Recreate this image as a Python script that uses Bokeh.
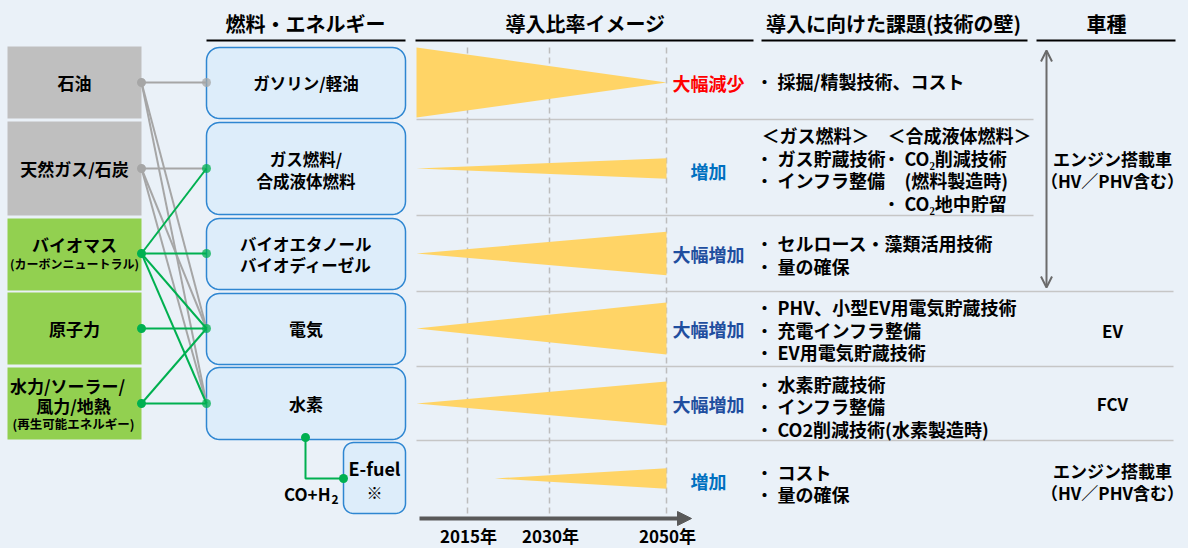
import numpy as np
from bokeh.plotting import figure
from bokeh.models import Range1d, Arrow, NormalHead, OpenHead
from bokeh.core.properties import value
from bokeh.embed import file_html
from bokeh.resources import INLINE

# ---------------- data ----------------
sources = ["石油", "天然ガス/石炭", "バイオマス", "原子力", "水力/ソーラー/風力/地熱"]
source_renewable = [False, False, True, True, True]
fuels = ["ガソリン/軽油", "ガス燃料/合成液体燃料", "バイオエタノール/バイオディーゼル", "電気", "水素"]
link_src = [0, 0, 0, 1, 1, 1, 2, 2, 2, 2, 3, 4, 4]
link_dst = [0, 3, 4, 1, 3, 4, 1, 2, 3, 4, 3, 3, 4]

years = [2015, 2030, 2050]
year_labels = ["2015年", "2030年", "2050年"]
wedge_names = ["ガソリン/軽油", "ガス燃料/合成液体燃料", "バイオ燃料", "電気", "水素", "E-fuel"]
wedge_start_year = [2006, 2006, 2006, 2006, 2006, 2020]
wedge_start_share = [1.0, 0.0, 0.0, 0.0, 0.0, 0.0]
wedge_2050_share = [0.0, 0.29, 0.62, 0.74, 0.63, 0.29]
trend_labels = ["大幅減少", "増加", "大幅増加", "大幅増加", "大幅増加", "増加"]
trend_kind = ["down", "up", "strong", "strong", "strong", "up"]

challenges = [
    ["採掘/精製技術、コスト"],
    None,
    ["セルロース・藻類活用技術", "量の確保"],
    ["PHV、小型EV用電気貯蔵技術", "充電インフラ整備", "EV用電気貯蔵技術"],
    ["水素貯蔵技術", "インフラ整備", "CO2削減技術(水素製造時)"],
    ["コスト", "量の確保"],
]
gas_head, gas_items = "＜ガス燃料＞", ["ガス貯蔵技術", "インフラ整備"]
syn_head, syn_items = "＜合成液体燃料＞", ["CO₂削減技術", "(燃料製造時)", "CO₂地中貯留"]
syn_bullet = [True, False, True]
vehicles = [["エンジン搭載車", "（HV／PHV含む）"], ["EV"], ["FCV"], ["エンジン搭載車", "（HV／PHV含む）"]]

headers = ["燃料・エネルギー", "導入比率イメージ", "導入に向けた課題(技術の壁)", "車種"]

# ---------------- layout / style ----------------
BG = "#EAF1F8"
FONT = "Noto Sans CJK JP"
GRAY_BOX = "#BFBFBF"
GREEN_BOX = "#92D050"
GRAY_LINE = "#A6A6A6"
GREEN_LINE = "#00B050"
BOX_FILL = "#DDEDFA"
BOX_EDGE = "#2E86D1"
WEDGE = "#FFD466"
AXIS_C = "#595959"
trend_color = {"down": "#FF0000", "up": "#0070C0", "strong": "#1F4E9F"}

row_top = [46, 121, 218, 292, 367]
row_bot = [118, 215, 290, 364, 439]
row_y = [82, 168, 253, 328, 403, 478]
src_x0, src_x1 = 7, 141
fuel_x0, fuel_x1 = 206, 405
year_anchor = [2006, 2015, 2030, 2050]
anchor_x = [416, 467, 549, 666]


def x_of_year(y):
    return float(np.interp(y, year_anchor, anchor_x))


p = figure(width=1188, height=548, x_range=Range1d(0, 1188), y_range=Range1d(548, 0),
           output_backend="svg", toolbar_location=None, min_border=0)
p.axis.visible = False
p.grid.visible = False
p.outline_line_color = None
p.background_fill_color = BG
p.border_fill_color = BG


def txt(x, y, s, size=17, color="#000000", align="center", style="bold"):
    p.text(x=[x], y=[y], text=[s], text_font=value(FONT), text_font_size=f"{size}px",
           text_font_style=style, text_color=color, text_align=align, text_baseline="middle")


def rrect(x0, y0, x1, y1, r):
    xs, ys = [], []
    cs = [(x1 - r, y0 + r, -90), (x1 - r, y1 - r, 0), (x0 + r, y1 - r, 90), (x0 + r, y0 + r, 180)]
    for cx, cy, a0 in cs:
        a = np.radians(np.linspace(a0, a0 + 90, 10))
        xs += list(cx + r * np.cos(a))
        ys += list(cy + r * np.sin(a))
    return xs, ys


# headers
hdr_x = [305, 585, 893, 1106]
hdr_line = [(206, 405), (415, 753), (761, 1027), (1036, 1175)]
for s, x, (a, b) in zip(headers, hdr_x, hdr_line):
    txt(x, 23, s, size=20)
    p.line([a, b], [40, 40], line_color="#000000", line_width=2)

# row separators
sep_y = [119, 215, 291, 366, 440]
sep_end = [1033, 1033, 1173, 1173, 1173]
for y, e in zip(sep_y, sep_end):
    p.line([416, e], [y, y], line_color="#C6C6C6", line_width=1.5)

# dashed year lines
for yr in years:
    xx = x_of_year(yr)
    p.line([xx, xx], [47, 513], line_color="#BDBDBD", line_width=1.5, line_dash="6 4")

# source boxes
for i, s in enumerate(sources):
    p.quad(left=src_x0, right=src_x1, top=row_top[i], bottom=row_bot[i],
           fill_color=GREEN_BOX if source_renewable[i] else GRAY_BOX, line_color=None)

# fuel boxes
fuel_top = [47, 122, 218, 293, 367]
fuel_bot = [118, 214, 289, 364, 439]
for i in range(len(fuels)):
    xs, ys = rrect(fuel_x0, fuel_top[i], fuel_x1, fuel_bot[i], 13)
    p.patch(xs, ys, fill_color=BOX_FILL, line_color=BOX_EDGE, line_width=1.5)
xs, ys = rrect(343, 442, 405, 513, 10)
p.patch(xs, ys, fill_color=BOX_FILL, line_color=BOX_EDGE, line_width=1.5)

# links
order = sorted(range(len(link_src)), key=lambda k: source_renewable[link_src[k]])
for k in order:
    s, d = link_src[k], link_dst[k]
    col = GREEN_LINE if source_renewable[s] else GRAY_LINE
    p.line([src_x1, fuel_x0], [row_y[s], row_y[d]], line_color=col, line_width=2)
# hydrogen -> e-fuel
p.line([305, 305, 343], [437, 478, 478], line_color=GREEN_LINE, line_width=2)

# dots
for i in range(len(sources)):
    col = GREEN_LINE if source_renewable[i] else GRAY_LINE
    p.scatter([src_x1], [row_y[i]], size=9, fill_color=col, line_color=None)
for d in range(len(fuels)):
    ren = any(source_renewable[link_src[k]] for k in range(len(link_src)) if link_dst[k] == d)
    col = GREEN_LINE if ren else GRAY_LINE
    p.scatter([fuel_x0], [row_y[d]], size=9, fill_color=col, line_color=None, fill_alpha=0.75)
p.scatter([305, 343], [437, 478], size=9, fill_color=GREEN_LINE, line_color=None)

# source texts
txt(74, 82, "石油")
txt(74, 168, "天然ガス/石炭")
txt(74, 244, "バイオマス")
txt(74, 263, "(カーボンニュートラル)", size=12)
txt(74, 328, "原子力")
txt(67, 385, "水力/ソーラー/")
txt(73, 405, "風力/地熱")
txt(73, 423, "(再生可能エネルギー)", size=12.5)

# fuel texts
fx = (fuel_x0 + fuel_x1) / 2
txt(fx, 82, "ガソリン/軽油", size=16.5)
txt(fx, 158, "ガス燃料/", size=16.5)
txt(fx, 180, "合成液体燃料", size=16.5)
txt(fx, 243, "バイオエタノール", size=16.5)
txt(fx, 264, "バイオディーゼル", size=16.5)
txt(fx, 328, "電気", size=17)
txt(fx, 403, "水素", size=17)
txt(374, 467, "E-fuel", size=18)
txt(374, 491, "※", size=16)
txt(330, 493, "CO+H", size=17, align="right")
txt(331, 499, "2", size=12, align="left")

# wedges
x_end = x_of_year(2050)
half = 35.0
wx, wy = [], []
for i in range(len(wedge_names)):
    xs0 = x_of_year(wedge_start_year[i])
    hs = wedge_start_share[i] * half
    he = wedge_2050_share[i] * half
    yc = row_y[i]
    wx.append([xs0, x_end, x_end, xs0])
    wy.append([yc - hs, yc - he, yc + he, yc + hs])
p.patches(wx, wy, fill_color=WEDGE, line_color=None)

for i, (lab, kd) in enumerate(zip(trend_labels, trend_kind)):
    txt(708, row_y[i] + (2 if kd == "up" else 0), lab, size=18, color=trend_color[kd])

# time axis
p.add_layout(Arrow(end=NormalHead(size=14, fill_color=AXIS_C, line_color=AXIS_C),
                   x_start=419, y_start=518, x_end=691, y_end=518,
                   line_color=AXIS_C, line_width=4))
for yr, lab in zip(years, year_labels):
    txt(x_of_year(yr) + 1, 535, lab, size=17)

# challenges
BX, TX = 764, 777
LH = 22.5
FS = 18
ch_center = [80, None, 254, 329, 405.5, 482.5]
for i, items in enumerate(challenges):
    if items is None:
        continue
    n = len(items)
    for k, s in enumerate(items):
        y = ch_center[i] + (k - (n - 1) / 2) * LH
        txt(BX, y, "・", size=16, align="center")
        txt(TX, y, s, size=FS, align="left")
# row 2 special
txt(761, 134, gas_head, size=FS, align="left")
txt(887, 134, syn_head, size=FS, align="left")
for k, s in enumerate(gas_items):
    y = 157 + k * LH
    txt(BX, y, "・", size=16)
    txt(TX, y, s, size=FS, align="left")
for k, s in enumerate(syn_items):
    y = 157 + k * LH
    if syn_bullet[k]:
        txt(891, y, "・", size=16)
    txt(904, y, s, size=FS, align="left")

# vehicle column
veh_center = [169, 330, 403, 481]
for lines, c in zip(vehicles, veh_center):
    n = len(lines)
    for k, s in enumerate(lines):
        txt(1112, c + (k - (n - 1) / 2) * 22, s, size=17)

p.add_layout(Arrow(start=OpenHead(size=11, line_color="#6B6B6B", line_width=2),
                   end=OpenHead(size=11, line_color="#6B6B6B", line_width=2),
                   x_start=1046, y_start=50, x_end=1046, y_end=287,
                   line_color="#6B6B6B", line_width=2))

html = file_html(p, INLINE)
html = html.replace("<head>", "<head><style>body{background:%s;}</style>" % BG, 1)
open("out.html", "w").write(html)
